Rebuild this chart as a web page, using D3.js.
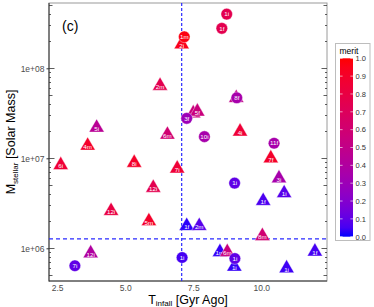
<!DOCTYPE html>
<html><head><meta charset="utf-8">
<script src="https://cdn.jsdelivr.net/npm/d3@7"></script>
<style>
html,body{margin:0;padding:0;background:#fff;}
svg{display:block;font-family:"Liberation Sans",Arial,Helvetica,sans-serif;}
</style></head>
<body><svg id="c" width="374" height="307"></svg>
<script>
// ---- data ----
const shapes = ["t","t","t","t","t","t","t","t","t","t","t","t","t","t","t","t","t","t","t","t","t","t","t","t","t","t","t","t",
                "c","c","c","c","c","c","c","c","c","c","c"];
const labels = ["2i","2m","5i","4m","6m","3i","5f","8i","4i","6i","12i","12i","8i","7i","12i","5m","1f","2m","1m","6m","1i","7f","3i","1i","1f","8m","1f","1i",
                "1i","1f","1m","3f","8f","10i","11f","7i","1i","1i","1i"];
const tinfall = [7.075,6.28,3.95,3.62,6.55,7.50,7.65,9.08,9.22,2.63,4.48,3.73,5.33,6.91,6.03,5.87,7.26,7.72,8.48,8.75,9.01,10.35,10.65,10.84,10.07,10.04,11.97,10.93,
                 8.73,8.55,7.17,7.26,9.10,7.91,10.47,3.15,9.02,7.09,9.03];
const mstellar = [1.85e8,6.4e7,2.19e7,1.38e7,1.83e7,3.16e7,3.3e7,4.68e7,1.98e7,8.4e6,2.6e6,8.8e5,8.9e6,7.7e6,4.7e6,2.0e6,1.77e6,1.77e6,9.1e5,9.1e5,6.25e5,1.0e7,6.0e6,4.1e6,3.36e6,1.37e6,9.2e5,6.0e5,
                  4.0e8,2.78e8,2.24e8,2.78e7,4.7e7,1.74e7,1.47e7,6.4e5,5.3e6,7.9e5,7.7e5];
const merit = [0.95,0.75,0.45,0.9,0.6,0.55,0.55,0.5,0.85,0.85,0.8,0.4,0.9,0.85,0.75,0.9,0.02,0.08,0.03,0.55,0.03,0.9,0.35,0.08,0.06,0.6,0.05,0.04,
               0.75,0.75,0.97,0.3,0.35,0.35,0.35,0.1,0.1,0.05,0.1];
const vLine = 7.075;
const hLine = 1.27e6;
const xTicks = [2.5,5.0,7.5,10.0];
const xTickLabels = ["2.5","5.0","7.5","10.0"];
const yTicks = [1e6,1e7,1e8];
const yTickLabels = ["1e+06","1e+07","1e+08"];
const legendTicks = [0,0.1,0.2,0.3,0.4,0.5,0.6,0.7,0.8,0.9,1.0];
const legendLabels = ["0.0","0.1","0.2","0.3","0.4","0.5","0.6","0.7","0.8","0.9","1.0"];

// ---- layout ----
const svg = d3.select("#c");
const L = 49, R = 327, T = 3, B = 281;
const x = d3.scaleLinear().domain([2.199, 12.415]).range([L, R]);
const y = d3.scaleLog().domain([Math.pow(10,5.6367), Math.pow(10,8.7256)]).range([B, T]);
const col = d3.scaleLinear().domain([0,1]).range(["#0000ff","#ff0000"]).interpolate(d3.interpolateLab);

// panel border
svg.append("rect").attr("x",L).attr("y",T).attr("width",R-L).attr("height",B-T)
  .attr("fill","none").attr("stroke","#9a9a9a").attr("stroke-width",1);
// axis lines
svg.append("line").attr("x1",L).attr("x2",L).attr("y1",T).attr("y2",B+0.5).attr("stroke","#333").attr("stroke-width",1);
svg.append("line").attr("x1",L).attr("x2",R).attr("y1",B).attr("y2",B).attr("stroke","#333").attr("stroke-width",1);

// log ticks (left and right, inside)
const logTicks = [];
for (let e = 5; e <= 8; e++) for (let m = 1; m <= 9; m++) {
  const v = m*Math.pow(10,e);
  if (v >= y.domain()[0] && v <= y.domain()[1]) logTicks.push({v, len: m===1?5.5:(m===5?3.5:2)});
}
logTicks.forEach(t => {
  const yy = Math.round(y(t.v))+0.5;
  svg.append("line").attr("x1",L).attr("x2",L+t.len).attr("y1",yy).attr("y2",yy).attr("stroke","#333").attr("stroke-width",0.8);
  svg.append("line").attr("x1",R).attr("x2",R-t.len).attr("y1",yy).attr("y2",yy).attr("stroke","#333").attr("stroke-width",0.8);
});
// y axis (outer ticks + labels)
const yAxis = d3.axisLeft(y).tickValues(yTicks).tickFormat((d,i)=>yTickLabels[i]).tickSize(2.5).tickPadding(2);
const gy = svg.append("g").attr("transform",`translate(${L},0)`).call(yAxis);
gy.select(".domain").remove();
gy.selectAll("line").attr("stroke","#333");
gy.selectAll("text").attr("fill","#4d4d4d").attr("font-size","8.5px").attr("font-family","Liberation Sans, Arial, sans-serif");
// x axis
const xAxis = d3.axisBottom(x).tickValues(xTicks).tickFormat((d,i)=>xTickLabels[i]).tickSize(0).tickPadding(4);
const gx = svg.append("g").attr("transform",`translate(0,${B})`).call(xAxis);
gx.select(".domain").remove();
gx.selectAll("text").attr("fill","#4d4d4d").attr("font-size","8.5px").attr("font-family","Liberation Sans, Arial, sans-serif");

// dashed reference lines
const vx = x(vLine), hy = y(hLine);
svg.append("line").attr("x1",vx).attr("x2",vx).attr("y1",T).attr("y2",B)
  .attr("stroke","#2a2aff").attr("stroke-width",1.2).attr("stroke-dasharray","3,2");
svg.append("line").attr("x1",L).attr("x2",R).attr("y1",hy).attr("y2",hy)
  .attr("stroke","#2a2aff").attr("stroke-width",1.2).attr("stroke-dasharray","4,3");

// markers
const data = tinfall.map((t,i)=>({t, m:mstellar[i], s:shapes[i], lab:labels[i], mer:merit[i]}));
const tri = d3.symbol().type(d3.symbolTriangle).size(100);
const g = svg.append("g");
data.forEach(d => {
  const px = x(d.t), py = y(d.m);
  if (d.s === "t") {
    g.append("path").attr("d",tri()).attr("transform",`translate(${px},${py})`)
      .attr("fill",col(d.mer)).attr("stroke","#fff").attr("stroke-width",0.4);
    g.append("text").attr("x",px).attr("y",py+3.3).attr("text-anchor","middle")
      .attr("font-size","6.2px").attr("fill","#fff").text(d.lab);
  } else {
    g.append("circle").attr("cx",px).attr("cy",py).attr("r",5.8)
      .attr("fill",col(d.mer)).attr("stroke","#fff").attr("stroke-width",0.4);
    g.append("text").attr("x",px).attr("y",py+2.2).attr("text-anchor","middle")
      .attr("font-size","6.2px").attr("fill","#fff").text(d.lab);
  }
});

// panel label
svg.append("text").attr("x",62).attr("y",31).attr("font-size","14px").attr("fill","#000").text("(c)");

// axis titles
const xt = svg.append("text").attr("x",(L+R)/2).attr("y",303.5).attr("text-anchor","middle").attr("font-size","12.5px").attr("fill","#000");
xt.append("tspan").text("T");
xt.append("tspan").attr("font-size","8px").attr("dy",2.5).text("infall");
xt.append("tspan").attr("dy",-2.5).text(" [Gyr Ago]");
const yt = svg.append("text").attr("transform",`translate(15,${(T+B)/2}) rotate(-90)`).attr("text-anchor","middle").attr("font-size","12.5px").attr("fill","#000");
yt.append("tspan").text("M");
yt.append("tspan").attr("font-size","8px").attr("dy",3).text("stellar");
yt.append("tspan").attr("dy",-3).text(" [Solar Mass]");

// legend
svg.append("rect").attr("x",335.5).attr("y",43.5).attr("width",34.5).attr("height",197)
  .attr("fill","#fff").attr("stroke","#bdbdbd").attr("stroke-width",1);
svg.append("text").attr("x",339.5).attr("y",53.5).attr("font-size","8.5px").attr("fill","#000").text("merit");
const lg = d3.scaleLinear().domain([0,1]).range([236.7,58.3]);
const grad = svg.append("defs").append("linearGradient").attr("id","gr").attr("x1",0).attr("x2",0).attr("y1",1).attr("y2",0);
d3.range(0,1.0001,0.05).forEach(v => grad.append("stop").attr("offset",v).attr("stop-color",col(v)));
svg.append("rect").attr("x",340).attr("y",lg(1)).attr("width",13).attr("height",lg(0)-lg(1)).attr("fill","url(#gr)");
legendTicks.forEach((v,i) => {
  const yy = lg(v);
  svg.append("line").attr("x1",340).attr("x2",342.6).attr("y1",yy).attr("y2",yy).attr("stroke","#fff").attr("stroke-width",0.6);
  svg.append("line").attr("x1",350.4).attr("x2",353).attr("y1",yy).attr("y2",yy).attr("stroke","#fff").attr("stroke-width",0.6);
  svg.append("text").attr("x",355.5).attr("y",yy+2.8).attr("font-size","7.5px").attr("fill","#333").text(legendLabels[i]);
});
</script></body></html>
